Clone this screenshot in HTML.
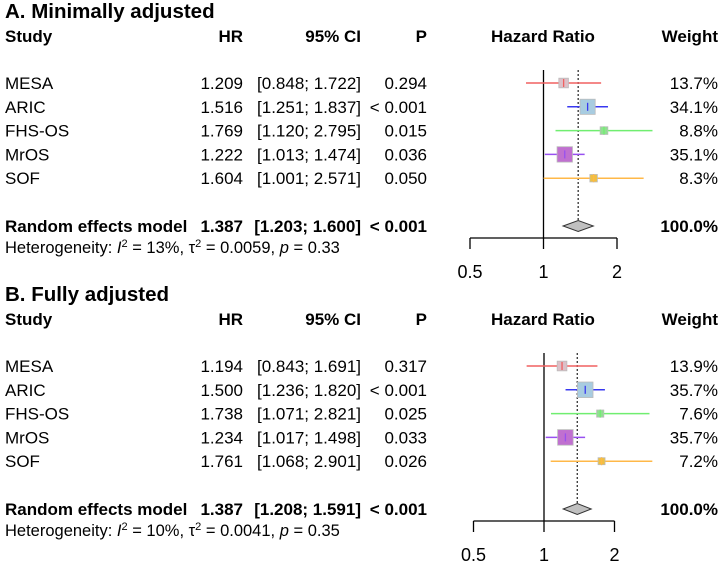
<!DOCTYPE html>
<html><head><meta charset="utf-8"><style>
body{margin:0;background:#fff;}
svg{display:block;font-family:"Liberation Sans",Arial,sans-serif;}
</style></head><body>
<svg id="chart" width="720" height="561"></svg>
<script>
const studies=["MESA","ARIC","FHS-OS","MrOS","SOF"];
const hrA=[1.209,1.516,1.769,1.222,1.604];
const loA=[0.848,1.251,1.120,1.013,1.001];
const hiA=[1.722,1.837,2.795,1.474,2.571];
const pA=["0.294","< 0.001","0.015","0.036","0.050"];
const wA=[13.7,34.1,8.8,35.1,8.3];
const hrB=[1.194,1.500,1.738,1.234,1.761];
const loB=[0.843,1.236,1.071,1.017,1.068];
const hiB=[1.691,1.820,2.821,1.498,2.901];
const pB=["0.317","< 0.001","0.025","0.033","0.026"];
const wB=[13.9,35.7,7.6,35.7,7.2];
const pooledA=[1.387,1.203,1.600];
const pooledB=[1.387,1.208,1.591];
const ticks=[0.5,1,2];
const tickLabels=["0.5","1","2"];
const hetA=["13%","0.0059","0.33"];
const hetB=["10%","0.0041","0.35"];
const lineCols=["#f06060","#3838f0","#70ee70","#9850f0","#ffb848"];
const boxCols=["#dcc0c8","#a8cce0","#90e090","#c070d0","#f0c040"];
const NS="http://www.w3.org/2000/svg";
const svg=document.getElementById('chart');
function el(tag,attrs,parent,text){const e=document.createElementNS(NS,tag);for(const k in attrs)e.setAttribute(k,attrs[k]);if(text!==undefined)e.textContent=text;(parent||svg).appendChild(e);return e;}
function txt(x,y,s,opts,parent){return el('text',Object.assign({x:x,y:y,'font-size':17,fill:'#000'},opts||{}),parent,s);}
function f3(v){return v.toFixed(3);}
function panel(id,title,oy,hr,lo,hi,pv,w,pooled,het,x1,unit){
  const g=el('g',{});
  
  
  const X=v=>x1+unit*Math.log2(v);
  const Y=i=>oy+83+i*23.8;
  const t=txt(5,oy+18,title,{'font-size':20.5,'font-weight':'bold'},g);
  
  const hy=oy+42;
  [["Study",5,"start"],["HR",243,"end"],["95% CI",361,"end"],["P",427,"end"],["Hazard Ratio",543,"middle"],["Weight",718,"end"]].forEach(h=>{
    const e=txt(h[1],hy,h[0],{'font-weight':'bold','text-anchor':h[2]},g);
    
    
  });
  const dia=Y(0)+143;
  const axisY=dia+12;
  const rl=el('line',{x1:X(1),x2:X(1),y1:Y(0)-13,y2:axisY,stroke:'#000','stroke-width':1.3},g);
  
  const dl=el('line',{x1:X(pooled[0]),x2:X(pooled[0]),y1:Y(0)-13,y2:dia-5,stroke:'#333','stroke-width':1.3,'stroke-dasharray':'2,2'},g);
  
  for(let i=0;i<studies.length;i++){
    const y=Y(i);const ty=y+6;
    const row=el('g',{},g);
    
    
    txt(5,ty,studies[i],{},row);
    txt(243,ty,f3(hr[i]),{'text-anchor':'end'},row);
    txt(361,ty,'['+f3(lo[i])+'; '+f3(hi[i])+']',{'text-anchor':'end'},row);
    txt(427,ty,pv[i],{'text-anchor':'end'},row);
    txt(718,ty,w[i].toFixed(1)+'%',{'text-anchor':'end'},row);
    const ci=el('line',{x1:X(lo[i]),x2:X(hi[i]),y1:y,y2:y,stroke:lineCols[i],'stroke-width':1.5},row);
    
    const s=2.6*Math.sqrt(w[i]);
    const b=el('rect',{x:X(hr[i])-s/2,y:y-s/2,width:s,height:s,fill:boxCols[i],stroke:'#bbb','stroke-width':0.8},row);
    
    el('line',{x1:X(hr[i]),x2:X(hr[i]),y1:y-4,y2:y+4,stroke:lineCols[i],'stroke-width':1.3},row);
  }
  const ry=dia+6;
  const pr=el('g',{},g);
  
  txt(5,ry,'Random effects model',{'font-weight':'bold'},pr);
  txt(243,ry,f3(pooled[0]),{'font-weight':'bold','text-anchor':'end'},pr);
  txt(361,ry,'['+f3(pooled[1])+'; '+f3(pooled[2])+']',{'font-weight':'bold','text-anchor':'end'},pr);
  txt(427,ry,'< 0.001',{'font-weight':'bold','text-anchor':'end'},pr);
  txt(718,ry,'100.0%',{'font-weight':'bold','text-anchor':'end'},pr);
  const d=el('polygon',{points:`${X(pooled[1])},${dia} ${X(pooled[0])},${dia-5.5} ${X(pooled[2])},${dia} ${X(pooled[0])},${dia+5.5}`,fill:'#c0c0c0',stroke:'#333','stroke-width':1},pr);
  
  const ht=el('text',{x:5,y:ry+21,'font-size':16.5,fill:'#000'},g);
  
  ht.innerHTML=`Heterogeneity: <tspan font-style="italic">I</tspan><tspan dy="-6" font-size="11">2</tspan><tspan dy="6"> = ${het[0]}, τ</tspan><tspan dy="-6" font-size="11">2</tspan><tspan dy="6"> = ${het[1]}, </tspan><tspan font-style="italic">p</tspan> = ${het[2]}`;
  const ax=el('g',{},g);
  
  el('line',{x1:X(ticks[0]),x2:X(ticks[ticks.length-1]),y1:axisY,y2:axisY,stroke:'#000','stroke-width':1.3},ax);
  ticks.forEach((t,k)=>{
    el('line',{x1:X(t),x2:X(t),y1:axisY,y2:axisY+11,stroke:'#000','stroke-width':1.3},ax);
    const tl=txt(X(t),axisY+40,tickLabels[k],{'text-anchor':'middle','font-size':18},ax);
    
  });
}
panel('a','A.  Minimally adjusted',0,hrA,loA,hiA,pA,wA,pooledA,hetA,543.5,73.5);
panel('b','B.  Fully adjusted',283,hrB,loB,hiB,pB,wB,pooledB,hetB,544,70.5);
</script>
</body></html>
